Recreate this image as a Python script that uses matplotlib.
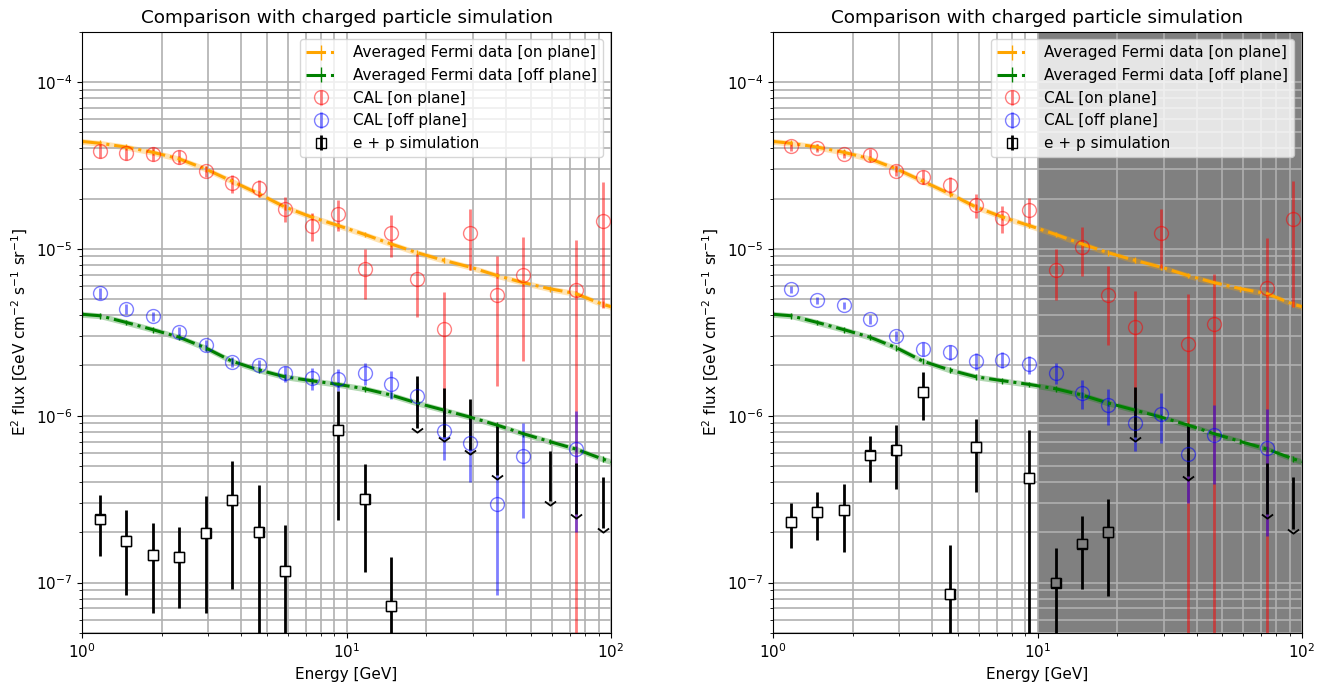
import numpy as np
import matplotlib
matplotlib.use('Agg')
import matplotlib.pyplot as plt
from matplotlib.path import Path

plt.rcParams['font.size'] = 11

nan = np.nan

# bin centres [GeV]
energy = [1.17, 1.47, 1.85, 2.33, 2.93, 3.69, 4.65, 5.85, 7.37, 9.28,
          11.7, 14.7, 18.5, 23.3, 29.3, 36.9, 46.5, 58.5, 73.7, 92.8]

# averaged Fermi spectra (same on both panels)
fermi_energy = [1.0, 1.17, 1.47, 1.85, 2.33, 2.93, 3.69, 4.65, 5.85, 7.37, 9.28,
                11.7, 14.7, 18.5, 23.3, 29.3, 36.9, 46.5, 58.5, 73.7, 92.8, 100.0]
fermi_on = [4.4e-5, 4.29e-5, 4.07e-5, 3.79e-5, 3.46e-5, 3.01e-5, 2.54e-5, 2.14e-5, 1.78e-5,
            1.55e-5, 1.38e-5, 1.22e-5, 1.07e-5, 9.47e-6, 8.53e-6, 7.77e-6, 6.93e-6, 6.27e-6,
            5.77e-6, 5.38e-6, 4.65e-6, 4.5e-6]
fermi_off = [4.05e-6, 3.97e-6, 3.62e-6, 3.28e-6, 2.95e-6, 2.55e-6, 2.12e-6, 1.88e-6, 1.71e-6,
             1.62e-6, 1.54e-6, 1.45e-6, 1.33e-6, 1.19e-6, 1.08e-6, 9.8e-7, 8.8e-7, 7.8e-7,
             7.0e-7, 6.3e-7, 5.5e-7, 5.3e-7]
fermi_rel_err = 0.04

# left panel
cal_on_L = [3.88e-5, 3.74e-5, 3.71e-5, 3.57e-5, 2.92e-5, 2.47e-5, 2.32e-5, 1.74e-5, 1.37e-5, 1.61e-5,
            7.53e-6, 1.24e-5, 6.59e-6, 3.3e-6, 1.24e-5, 5.31e-6, 6.93e-6, nan, 5.69e-6, 1.47e-5]
cal_on_L_err = [3.6e-6, 3.5e-6, 3.5e-6, 3.3e-6, 2.3e-6, 3.0e-6, 2.7e-6, 3.0e-6, 2.6e-6, 3.4e-6,
                2.5e-6, 3.5e-6, 2.7e-6, 2.2e-6, 4.9e-6, 3.8e-6, 4.8e-6, nan, 5.65e-6, 1.03e-5]
cal_off_L = [5.43e-6, 4.38e-6, 3.94e-6, 3.18e-6, 2.64e-6, 2.10e-6, 2.02e-6, 1.79e-6, 1.67e-6, 1.65e-6,
             1.80e-6, 1.55e-6, 1.31e-6, 8.1e-7, 6.82e-7, 2.94e-7, 5.73e-7, nan, 6.3e-7, nan]
cal_off_L_err = [4e-7, 3e-7, 2.5e-7, 2e-7, 2e-7, 1.5e-7, 1.5e-7, 2e-7, 2.5e-7, 2.5e-7,
                 2.7e-7, 2.9e-7, 2.5e-7, 2.7e-7, 2.8e-7, 2.1e-7, 3.3e-7, nan, 4.3e-7, nan]
sim_L = [2.39e-7, 1.78e-7, 1.46e-7, 1.42e-7, 1.99e-7, 3.12e-7, 2.01e-7, 1.17e-7, nan, 8.18e-7,
         3.16e-7, 7.24e-8, nan, nan, nan, nan, nan, nan, nan, nan]
sim_L_err = [9.5e-8, 9.4e-8, 8e-8, 7.2e-8, 1.33e-7, 2.2e-7, 1.81e-7, 1.04e-7, nan, 5.8e-7,
             2.0e-7, 7.0e-8, nan, nan, nan, nan, nan, nan, nan, nan]
sim_ul_L = [nan, nan, nan, nan, nan, nan, nan, nan, nan, nan,
            nan, nan, 1.73e-6, 1.47e-6, 1.26e-6, 8.8e-7, nan, 6.15e-7, 5.18e-7, 4.28e-7]
sim_ul_L_err = [nan, nan, nan, nan, nan, nan, nan, nan, nan, nan,
                nan, nan, 8.9e-7, 7.3e-7, 6.4e-7, 4.4e-7, nan, 3.07e-7, 2.62e-7, 2.15e-7]

# right panel
cal_on_R = [4.12e-5, 4.03e-5, 3.69e-5, 3.64e-5, 2.94e-5, 2.71e-5, 2.42e-5, 1.84e-5, 1.53e-5, 1.70e-5,
            7.43e-6, 1.02e-5, 5.26e-6, 3.40e-6, 1.25e-5, 2.68e-6, 3.56e-6, nan, 5.85e-6, 1.50e-5]
cal_on_R_err = [2.5e-6, 2e-6, 2e-6, 3e-6, 2.2e-6, 2.5e-6, 2.8e-6, 3e-6, 2.8e-6, 3.3e-6,
                2.5e-6, 3.3e-6, 2.6e-6, 2.2e-6, 4.8e-6, 2.7e-6, 3.55e-6, nan, 5.8e-6, 1.05e-5]
cal_off_R = [5.71e-6, 4.91e-6, 4.58e-6, 3.78e-6, 3.01e-6, 2.52e-6, 2.41e-6, 2.13e-6, 2.17e-6, 2.03e-6,
             1.81e-6, 1.36e-6, 1.16e-6, 9.06e-7, 1.03e-6, 5.89e-7, 7.71e-7, nan, 6.41e-7, nan]
cal_off_R_err = [3e-7, 2.5e-7, 2.5e-7, 2.5e-7, 2e-7, 2.5e-7, 2.5e-7, 2.5e-7, 2.5e-7, 2.5e-7,
                 2.7e-7, 2.7e-7, 2.8e-7, 2.9e-7, 3.4e-7, 2.9e-7, 3.8e-7, nan, 4.5e-7, nan]
sim_R = [2.31e-7, 2.64e-7, 2.72e-7, 5.78e-7, 6.21e-7, 1.38e-6, 8.5e-8, 6.5e-7, nan, 4.21e-7,
         1.0e-7, 1.71e-7, 2.0e-7, nan, nan, nan, nan, nan, nan, nan]
sim_R_err = [7e-8, 8.5e-8, 1.2e-7, 1.8e-7, 2.6e-7, 4.4e-7, 8.3e-8, 3e-7, nan, 4.05e-7,
             6.2e-8, 8e-8, 1.17e-7, nan, nan, nan, nan, nan, nan, nan]
sim_ul_R = [nan, nan, nan, nan, nan, nan, nan, nan, nan, nan,
            nan, nan, nan, 1.49e-6, nan, 8.77e-7, nan, nan, 5.18e-7, 4.30e-7]
sim_ul_R_err = [nan, nan, nan, nan, nan, nan, nan, nan, nan, nan,
                nan, nan, nan, 7.5e-7, nan, 4.4e-7, nan, nan, 2.6e-7, 2.2e-7]

# open "v" caret for the upper limits (old matplotlib look)
chevron = Path([(-1, 0), (0, -0.75), (1, 0)], [Path.MOVETO, Path.LINETO, Path.LINETO])


def draw_panel(ax, cal_on, cal_on_err, cal_off, cal_off_err, sim, sim_err, ul, ul_err, shade=False):
    if shade:
        ax.axvspan(10, 100, color='gray', zorder=1)

    for vals, col, lab in [(fermi_on, 'orange', 'Averaged Fermi data [on plane]'),
                           (fermi_off, 'green', 'Averaged Fermi data [off plane]')]:
        vals = np.array(vals)
        ax.fill_between(fermi_energy, vals * (1 - fermi_rel_err), vals * (1 + fermi_rel_err),
                        color=col, alpha=0.3, lw=0)
        ax.errorbar(fermi_energy, vals, yerr=vals * fermi_rel_err, fmt='-.', color=col,
                    lw=2.2, elinewidth=1.0, label=lab)

    ax.errorbar(energy, cal_on, yerr=cal_on_err, fmt='o', color='red', mfc='none',
                ms=10, elinewidth=2, alpha=0.5, label='CAL [on plane]')
    ax.errorbar(energy, cal_off, yerr=cal_off_err, fmt='o', color='blue', mfc='none',
                ms=10, elinewidth=2, alpha=0.5, label='CAL [off plane]')

    ax.errorbar(energy, sim, yerr=sim_err, fmt='s', color='k', mfc='none',
                ms=7, elinewidth=2, label='e + p simulation')
    # square faces hide the bar, like the original
    face = ['gray' if (shade and e > 10) else 'white' for e in energy]
    ax.scatter(energy, sim, marker='s', s=49, facecolors=face, edgecolors='k',
               linewidths=1.0, zorder=3)
    ul_bars = ax.errorbar(energy, ul, yerr=ul_err, uplims=True, fmt='none', ecolor='k', elinewidth=2)
    for cap in ul_bars[1]:
        cap.set_marker(chevron)
        cap.set_markersize(8)
        cap.set_markerfacecolor('none')
        cap.set_markeredgecolor('k')
        cap.set_markeredgewidth(1.3)

    ax.set_xscale('log')
    ax.set_yscale('log')
    ax.set_xlim(1, 100)
    ax.set_ylim(5e-8, 2e-4)
    ax.grid(True, which='both', lw=1.2)
    ax.set_xlabel('Energy [GeV]')
    ax.set_ylabel(r'E$^2$ flux [GeV cm$^{-2}$ s$^{-1}$ sr$^{-1}$]')
    ax.set_title('Comparison with charged particle simulation')
    ax.legend(loc='upper right', handletextpad=1.1)


fig, (ax1, ax2) = plt.subplots(1, 2, figsize=(13.36, 6.9))
plt.subplots_adjust(left=0.0614, right=0.9746, bottom=0.083, top=0.954, wspace=0.306)

draw_panel(ax1, cal_on_L, cal_on_L_err, cal_off_L, cal_off_L_err, sim_L, sim_L_err, sim_ul_L, sim_ul_L_err)
draw_panel(ax2, cal_on_R, cal_on_R_err, cal_off_R, cal_off_R_err, sim_R, sim_R_err, sim_ul_R, sim_ul_R_err,
           shade=True)

fig.savefig('out.png', dpi=100)
